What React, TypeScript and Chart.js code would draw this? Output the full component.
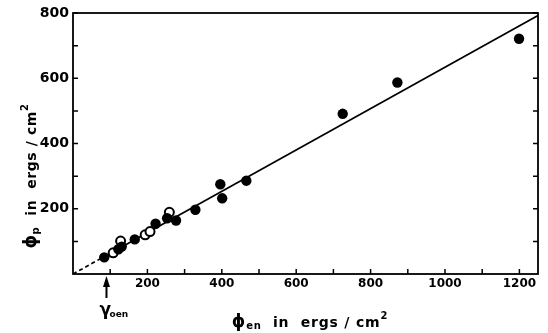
import React, { useEffect, useRef } from 'react';
import { Chart, registerables } from 'chart.js';

Chart.register(...registerables);

// Filled circles
const filledX = [84, 122, 131, 166, 222, 253, 277, 329, 396, 401, 466, 725, 872, 1199];
const filledY = [51, 76, 84, 106, 154, 171, 164, 197, 275, 232, 286, 491, 587, 721];
// Open circles
const openX = [108, 128, 194, 207, 259];
const openY = [65, 101, 120, 130, 189];
// Fitted line (first segment dashed)
const fitX = [0, 85, 1250];
const fitY = [0, 54, 792];
// Axis ticks
const xTickValues = [100, 200, 300, 400, 500, 600, 700, 800, 900, 1000, 1100, 1200];
const xTickLabels = [200, 400, 600, 800, 1000, 1200];
const yTickValues = [100, 200, 300, 400, 500, 600, 700, 800];
const yTickLabels = [200, 400, 600, 800];
const gammaOen = 90;

const FONT = "'DejaVu Sans', sans-serif";

type Part = { t: string; size: number; dy?: number };

function drawParts(ctx: CanvasRenderingContext2D, parts: Part[], cx: number, baseline: number, spacing: string) {
  const widths = parts.map((p) => {
    ctx.font = `bold ${p.size}px ${FONT}`;
    (ctx as any).letterSpacing = spacing;
    return ctx.measureText(p.t).width;
  });
  const total = widths.reduce((a, b) => a + b, 0);
  let x = cx - total / 2;
  parts.forEach((p, i) => {
    ctx.font = `bold ${p.size}px ${FONT}`;
    (ctx as any).letterSpacing = spacing;
    ctx.fillText(p.t, x, baseline + (p.dy || 0));
    x += widths[i];
  });
  (ctx as any).letterSpacing = '0px';
}

const framePlugin = {
  id: 'frame',
  afterDraw(chart: any) {
    const { ctx, chartArea: a, scales } = chart;
    const xs = scales.x;
    const ys = scales.y;
    ctx.save();
    ctx.strokeStyle = '#000';
    ctx.fillStyle = '#000';
    ctx.lineWidth = 1.8;
    ctx.strokeRect(a.left, a.top, a.right - a.left, a.bottom - a.top);
    ctx.lineWidth = 1.5;
    const tl = 5;
    ctx.beginPath();
    xTickValues.forEach((v) => {
      const px = xs.getPixelForValue(v);
      ctx.moveTo(px, a.bottom);
      ctx.lineTo(px, a.bottom - tl);
    });
    yTickValues.forEach((v) => {
      const py = ys.getPixelForValue(v);
      ctx.moveTo(a.left, py);
      ctx.lineTo(a.left + tl, py);
      ctx.moveTo(a.right, py);
      ctx.lineTo(a.right - tl, py);
    });
    ctx.stroke();

    // x title
    ctx.textAlign = 'left';
    ctx.textBaseline = 'alphabetic';
    drawParts(
      ctx,
      [
        { t: 'ϕ', size: 17 },
        { t: 'en', size: 10, dy: 2 },
        { t: '  in  ergs / cm', size: 14 },
        { t: '2', size: 10, dy: -8 },
      ],
      310,
      327,
      '0.8px'
    );

    // y title
    ctx.save();
    ctx.translate(36, 176);
    ctx.rotate(-Math.PI / 2);
    drawParts(
      ctx,
      [
        { t: 'ϕ', size: 17 },
        { t: 'p', size: 10, dy: 3 },
        { t: '  in  ergs / cm', size: 14 },
        { t: '2', size: 10, dy: -8 },
      ],
      0,
      0,
      '0.6px'
    );
    ctx.restore();

    // gamma_oen arrow
    const gx = xs.getPixelForValue(gammaOen);
    ctx.lineWidth = 2;
    ctx.beginPath();
    ctx.moveTo(gx, 298);
    ctx.lineTo(gx, a.bottom + 10);
    ctx.stroke();
    ctx.beginPath();
    ctx.moveTo(gx, a.bottom + 2);
    ctx.lineTo(gx - 3.5, a.bottom + 13);
    ctx.lineTo(gx + 3.5, a.bottom + 13);
    ctx.closePath();
    ctx.fill();
    ctx.font = `bold 17px ${FONT}`;
    ctx.fillText('γ', gx - 7, 315);
    ctx.font = `bold 9px ${FONT}`;
    ctx.fillText('oen', gx + 3, 317);
    ctx.restore();
  },
};

export default function App() {
  const ref = useRef<HTMLCanvasElement | null>(null);
  useEffect(() => {
    if (!ref.current) return;
    const chart = new Chart(ref.current, {
      type: 'scatter',
      data: {
        datasets: [
          {
            data: fitX.map((x, i) => ({ x, y: fitY[i] })),
            showLine: true,
            borderColor: '#000',
            borderWidth: 1.7,
            pointRadius: 0,
            segment: {
              borderDash: (c: any) => (c.p0DataIndex === 0 ? [4, 3] : []),
            },
            order: 3,
          } as any,
          {
            data: filledX.map((x, i) => ({ x, y: filledY[i] })),
            pointRadius: 5.2,
            backgroundColor: '#000',
            borderColor: '#000',
            borderWidth: 0,
            order: 1,
          },
          {
            data: openX.map((x, i) => ({ x, y: openY[i] })),
            pointRadius: 4.5,
            backgroundColor: '#fff',
            borderColor: '#000',
            borderWidth: 2,
            order: 2,
          },
        ],
      },
      options: {
        responsive: false,
        animation: false,
        layout: { padding: { left: 0, top: 13, right: 10, bottom: 0 } },
        plugins: { legend: { display: false }, tooltip: { enabled: false } },
        scales: {
          x: {
            type: 'linear',
            min: 0,
            max: 1250,
            afterBuildTicks: (s: any) => {
              s.ticks = xTickValues.map((v) => ({ value: v }));
            },
            afterFit: (s: any) => {
              s.height = 59;
            },
            grid: { display: false, drawTicks: false },
            border: { display: false },
            ticks: {
              autoSkip: false,
              maxRotation: 0,
              padding: 3,
              color: '#000',
              font: { family: FONT, size: 12, weight: 'bold' },
              callback: (v: any) => (xTickLabels.includes(Number(v)) ? String(v) : ''),
            },
          },
          y: {
            type: 'linear',
            min: 0,
            max: 800,
            afterBuildTicks: (s: any) => {
              s.ticks = yTickValues.map((v) => ({ value: v }));
            },
            afterFit: (s: any) => {
              s.width = 73;
            },
            grid: { display: false, drawTicks: false },
            border: { display: false },
            ticks: {
              autoSkip: false,
              padding: 4,
              color: '#000',
              font: { family: FONT, size: 14, weight: 'bold' },
              callback: (v: any) => (yTickLabels.includes(Number(v)) ? String(v) : ''),
            },
          },
        },
      },
      plugins: [framePlugin],
    });
    return () => chart.destroy();
  }, []);
  return (
    <div style={{ position: 'fixed', left: 0, top: 0, width: 548, height: 333, background: '#fff' }}>
      <canvas ref={ref} width={548} height={333} />
    </div>
  );
}
